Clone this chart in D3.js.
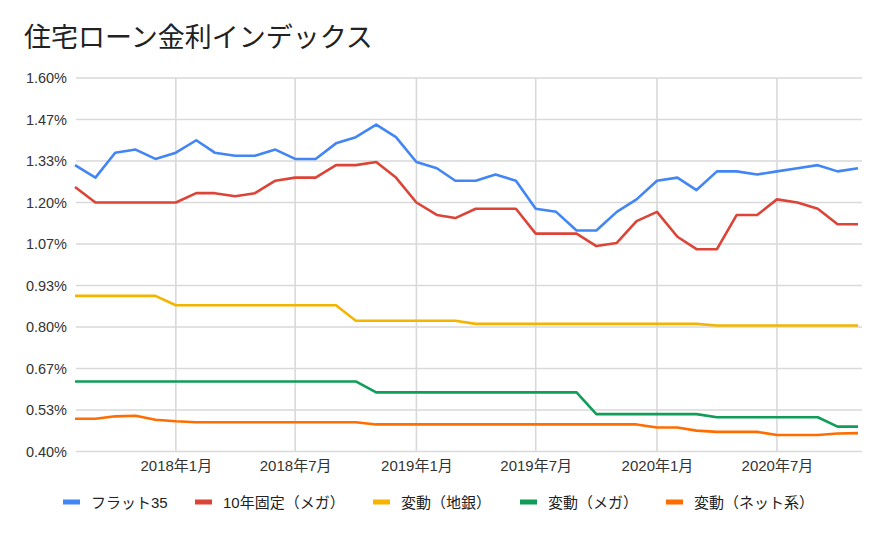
<!DOCTYPE html>
<html>
<head>
<meta charset="utf-8">
<script src="https://cdn.jsdelivr.net/npm/d3@7"></script>
<style>
  html, body { margin: 0; padding: 0; background: #fff; }
  svg { display: block; font-family: "Liberation Sans", "Noto Sans CJK JP", sans-serif; }
</style>
</head>
<body>
<svg id="chart" width="887" height="533"></svg>
<script>
const title = "住宅ローン金利インデックス";

const months = [
  "2017-08","2017-09","2017-10","2017-11","2017-12",
  "2018-01","2018-02","2018-03","2018-04","2018-05","2018-06",
  "2018-07","2018-08","2018-09","2018-10","2018-11","2018-12",
  "2019-01","2019-02","2019-03","2019-04","2019-05","2019-06",
  "2019-07","2019-08","2019-09","2019-10","2019-11","2019-12",
  "2020-01","2020-02","2020-03","2020-04","2020-05","2020-06",
  "2020-07","2020-08","2020-09","2020-10","2020-11"
];

const flat35 = [1.32,1.28,1.36,1.37,1.34,1.36,1.40,1.36,1.35,1.35,1.37,1.34,1.34,1.39,1.41,1.45,1.41,1.33,1.31,1.27,
                1.27,1.29,1.27,1.18,1.17,1.11,1.11,1.17,1.21,1.27,1.28,1.24,1.30,1.30,1.29,1.30,1.31,1.32,1.30,1.31];
const fixed10 = [1.25,1.20,1.20,1.20,1.20,1.20,1.23,1.23,1.22,1.23,1.27,1.28,1.28,1.32,1.32,1.33,1.28,1.20,1.16,1.15,
                 1.18,1.18,1.18,1.10,1.10,1.10,1.06,1.07,1.14,1.17,1.09,1.05,1.05,1.16,1.16,1.21,1.20,1.18,1.13,1.13];
const varRegional = [0.90,0.90,0.90,0.90,0.90,0.87,0.87,0.87,0.87,0.87,0.87,0.87,0.87,0.87,0.82,0.82,0.82,0.82,0.82,0.82,
                     0.81,0.81,0.81,0.81,0.81,0.81,0.81,0.81,0.81,0.81,0.81,0.81,0.805,0.805,0.805,0.805,0.805,0.805,0.805,0.805];
const varMega = [0.625,0.625,0.625,0.625,0.625,0.625,0.625,0.625,0.625,0.625,0.625,0.625,0.625,0.625,0.625,0.59,0.59,0.59,0.59,0.59,
                 0.59,0.59,0.59,0.59,0.59,0.59,0.52,0.52,0.52,0.52,0.52,0.52,0.51,0.51,0.51,0.51,0.51,0.51,0.48,0.48];
const varNet = [0.505,0.505,0.513,0.515,0.502,0.497,0.494,0.494,0.494,0.494,0.494,0.494,0.494,0.494,0.494,0.487,0.487,0.487,0.487,0.487,
                0.487,0.487,0.487,0.487,0.487,0.487,0.487,0.487,0.487,0.477,0.477,0.467,0.463,0.463,0.463,0.453,0.453,0.453,0.458,0.459];

const seriesNames = ["フラット35", "10年固定（メガ）", "変動（地銀）", "変動（メガ）", "変動（ネット系）"];
const seriesColors = ["#4285F4", "#DB4437", "#F4B400", "#0F9D58", "#FF6D01"];
const seriesValues = [flat35, fixed10, varRegional, varMega, varNet];

const yTicks = [0.40, 0.5333, 0.6667, 0.80, 0.9333, 1.0667, 1.20, 1.3333, 1.4667, 1.60];
const xTickDates = ["2018-01","2018-07","2019-01","2019-07","2020-01","2020-07"];
const xTickLabels = ["2018年1月","2018年7月","2019年1月","2019年7月","2020年1月","2020年7月"];

const parseMonth = d3.timeParse("%Y-%m");
const dates = months.map(parseMonth);

const svg = d3.select("#chart");
const plotLeft = 75, plotRight = 858, gridRight = 862, plotTop = 78, plotBottom = 451.5;

const x = d3.scaleTime().domain(d3.extent(dates)).range([plotLeft, plotRight]);
const y = d3.scaleLinear().domain([0.40, 1.60]).range([plotBottom, plotTop]);

svg.append("rect").attr("width", 887).attr("height", 533).attr("fill", "#fff");

// Title
svg.append("text").attr("x", 24).attr("y", 47)
  .attr("font-size", 27).attr("fill", "#222")
  .attr("font-family", "'Noto Sans CJK JP', sans-serif")
  .text(title);

// Horizontal gridlines
svg.append("g").selectAll("line").data(yTicks).join("line")
  .attr("x1", plotLeft + 1).attr("x2", gridRight)
  .attr("y1", d => y(d)).attr("y2", d => y(d))
  .attr("stroke", "#d9d9d9").attr("stroke-width", 1.6);

// Vertical gridlines
svg.append("g").selectAll("line").data(xTickDates).join("line")
  .attr("x1", d => x(parseMonth(d))).attr("x2", d => x(parseMonth(d)))
  .attr("y1", plotTop).attr("y2", plotBottom)
  .attr("stroke", "#d9d9d9").attr("stroke-width", 1.6);

// Y axis
const yAxis = d3.axisLeft(y).tickValues(yTicks).tickSize(0).tickPadding(0)
  .tickFormat(d => d3.format(".2f")(d) + "%");
const yg = svg.append("g").attr("transform", `translate(${plotLeft - 8},0)`).call(yAxis);
yg.select(".domain").remove();
yg.selectAll("text").attr("font-size", 14.5).attr("fill", "#333")
  .attr("font-family", "'Liberation Sans', 'Noto Sans CJK JP', sans-serif");

// X axis
const xAxis = d3.axisBottom(x).tickValues(xTickDates.map(parseMonth)).tickSize(0).tickPadding(0)
  .tickFormat((d, i) => xTickLabels[i]);
const xg = svg.append("g").attr("transform", `translate(0,${plotBottom + 9})`).call(xAxis);
xg.select(".domain").remove();
xg.selectAll("text").attr("font-size", 15).attr("fill", "#333")
  .attr("font-family", "'Liberation Sans', 'Noto Sans CJK JP', sans-serif");

// Lines
const line = d3.line().x((d, i) => x(dates[i])).y(d => y(d));
const lg = svg.append("g");
seriesValues.forEach((vals, k) => {
  lg.append("path").datum(vals)
    .attr("fill", "none")
    .attr("stroke", seriesColors[k])
    .attr("stroke-width", 2.6)
    .attr("stroke-linejoin", "round")
    .attr("d", line);
});

// Legend
const legendX = [63, 195, 373, 520, 666];
const legend = svg.append("g");
seriesNames.forEach((name, k) => {
  const g = legend.append("g").attr("transform", `translate(${legendX[k]},502)`);
  g.append("rect").attr("x", 0).attr("y", -2.5).attr("width", 17).attr("height", 5)
    .attr("fill", seriesColors[k]);
  g.append("text").attr("x", 28).attr("y", 5.5)
    .attr("font-size", 15).attr("fill", "#222")
    .attr("font-family", "'Liberation Sans', 'Noto Sans CJK JP', sans-serif")
    .text(name);
});
</script>
</body>
</html>
